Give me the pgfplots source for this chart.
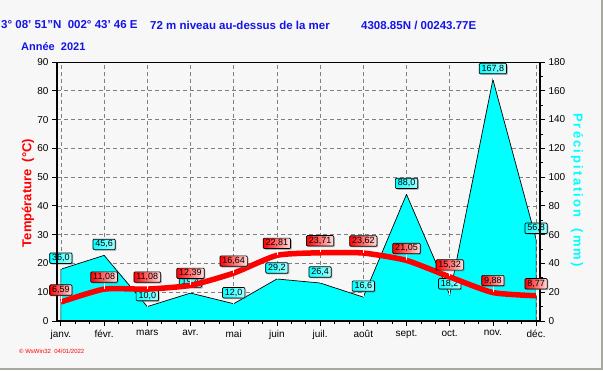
\documentclass[border=0pt]{standalone}
\usepackage{pgfplots}
\pgfplotsset{compat=1.18}
\usepackage{pgfplotstable}
\usepackage{fontspec}
\setmainfont{Liberation Sans}
\usetikzlibrary{shadows}
\definecolor{bg}{HTML}{F7F7F7}
\definecolor{cy}{HTML}{00FFFF}
\definecolor{ttl}{HTML}{1414E6}
\definecolor{frm}{HTML}{A8A8A0}
\pgfplotstableread{
m temp precip
0 6.59 36.0
1 11.08 45.6
2 11.08 10.0
3 12.39 19.4
4 16.64 12.0
5 22.81 29.2
6 23.71 26.4
7 23.62 16.6
8 21.05 88.0
9 15.32 18.2
10 9.88 167.8
11 8.77 56.8
}\datatab
\begin{document}
\begin{tikzpicture}[x=1pt,y=1pt]
\useasboundingbox (0,0) rectangle (603,370);
\fill[bg] (0,0) rectangle (603,370);
\draw[frm,line width=1.5pt] (602.2,370) -- (602.2,0.8) -- (0,0.8);
% titles
\node[anchor=west,text=ttl,font=\bfseries\fontsize{11.5}{12}\selectfont,inner sep=0] at (1,345) {3° 08' 51"N\ \ 002° 43' 46 E};
\node[anchor=west,text=ttl,font=\bfseries\fontsize{11.5}{12}\selectfont,inner sep=0] at (150,345) {72 m niveau au-dessus de la mer};
\node[anchor=west,text=ttl,font=\bfseries\fontsize{11.5}{12}\selectfont,inner sep=0] at (361,345) {4308.85N / 00243.77E};
\node[anchor=west,text=ttl,font=\bfseries\fontsize{11}{12}\selectfont,inner sep=0] at (21,323) {Année\ \ 2021};
\node[anchor=west,text=red,font=\fontsize{6}{7}\selectfont,inner sep=0] at (19,19) {© WsWin32\ \ 04/01/2022};
\node[rotate=90,text=red,font=\bfseries\fontsize{13}{14}\selectfont,inner sep=0] at (28,177) {Température\ \ (°C)};
\node[rotate=-90,text=cy,font=\bfseries\fontsize{13}{14}\selectfont,inner sep=0] at (577,180) {P\,r\,é\,c\,i\,p\,i\,t\,a\,t\,i\,o\,n\ \ \ (\,m\,m\,)};
% precipitation axis
\begin{axis}[
  at={(57pt,49pt)}, anchor=south west, scale only axis,
  width=483pt, height=259pt,
  xmin=-0.09, xmax=11.09, ymin=0, ymax=180,
  clip=false,
  axis line style={draw=none},
  xtick={0,...,11},
  xticklabels={janv.,févr.,mars,avr.,mai,juin,juil.,août,sept.,oct.,nov.,déc.},
  minor x tick num=2,
  ytick={0,20,...,180},
  minor y tick num=1,
  ytick pos=right, xtick pos=bottom,
  tick align=outside,
  major tick length=5pt, minor tick length=3pt,
  every tick/.style={black,line width=0.8pt},
  tick label style={font=\fontsize{10}{11}\selectfont},
  xticklabel style={yshift=-1pt},
  grid=major,
  major grid style={gray,dash pattern=on 4pt off 3pt,line width=0.7pt},
  /pgf/number format/assume math mode=true,
]
\addplot[fill=cy,draw=black,line width=0.7pt] table[x=m,y=precip]{\datatab} \closedcycle;
\addplot[only marks,mark=|,mark size=3pt,mark options={white,line width=0.7pt,yshift=3pt}] table[x=m,y=precip]{\datatab};
\addplot[draw=none,
  point meta=y,
  nodes near coords={\pgfmathprintnumber[fixed,fixed zerofill,precision=1,use comma]{\pgfplotspointmeta}},
  every node near coord/.append style={anchor=center,yshift=11pt,draw=black,line width=0.7pt,
    left color=cy,right color=cy!35!white,rounded corners=1pt,inner xsep=2.4pt,inner ysep=1.5pt,
    font=\fontsize{9}{9}\selectfont,
    drop shadow={shadow xshift=1.2pt,shadow yshift=-1.2pt,fill=black!55}}
] table[x=m,y=precip]{\datatab};
\end{axis}
% temperature axis
\begin{axis}[
  at={(57pt,49pt)}, anchor=south west, scale only axis,
  width=483pt, height=259pt,
  xmin=-0.09, xmax=11.09, ymin=0, ymax=90,
  clip=false,
  axis line style={draw=none},
  xtick=\empty,
  ytick={0,10,...,90},
  ytick pos=left,
  tick align=outside,
  major tick length=5pt,
  every tick/.style={black,line width=0.8pt},
  tick label style={font=\fontsize{10}{11}\selectfont},
  /pgf/number format/assume math mode=true,
]
\addplot[red,line width=5.5pt,smooth,tension=0.35] table[x=m,y=temp]{\datatab};
\addplot[only marks,mark=|,mark size=3pt,mark options={white,line width=0.7pt,yshift=3.5pt}] table[x=m,y=temp]{\datatab};
\addplot[draw=none,
  point meta=y,
  nodes near coords={\pgfmathprintnumber[fixed,fixed zerofill,precision=2,use comma]{\pgfplotspointmeta}},
  every node near coord/.append style={anchor=center,yshift=12pt,draw=black,line width=0.7pt,
    left color=red,right color=red!12!white,rounded corners=1pt,inner xsep=2.4pt,inner ysep=1.5pt,
    font=\fontsize{9}{9}\selectfont,
    drop shadow={shadow xshift=1.2pt,shadow yshift=-1.2pt,fill=black!55}}
] table[x=m,y=temp]{\datatab};
\draw[line width=0.8pt] (rel axis cs:0,1) -- (rel axis cs:1,1);
\draw[line width=2.4pt] (rel axis cs:0,1) -- (rel axis cs:0,0) -- (rel axis cs:1,0) -- (rel axis cs:1,1);
\end{axis}
\end{tikzpicture}
\end{document}
